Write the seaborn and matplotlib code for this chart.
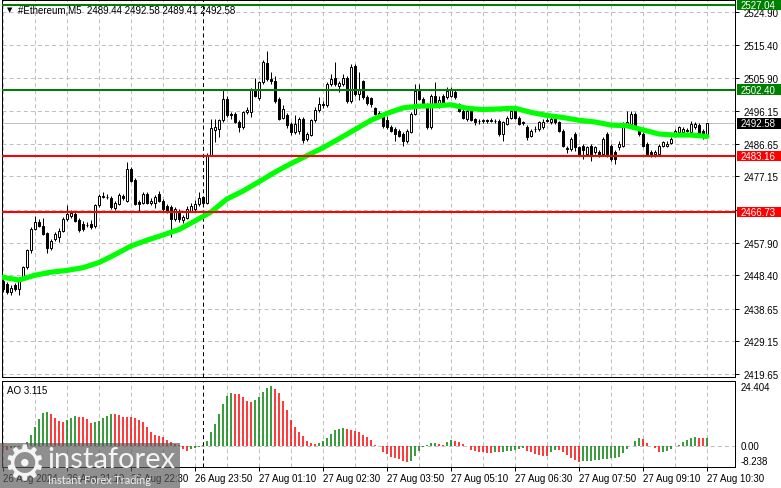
import numpy as np
import pandas as pd
import matplotlib
matplotlib.use("Agg")
import matplotlib.pyplot as plt
import matplotlib.transforms as mtrans
from matplotlib.patches import Rectangle
import seaborn as sns

# ---------------- data ----------------
opens = [2446.8, 2445.9, 2443.4, 2445.5, 2444.4, 2447.8, 2450.7, 2455.6, 2461.9, 2464.0,
         2462.6, 2460.7, 2456.2, 2459.0, 2459.4, 2461.4, 2464.8, 2465.7, 2466.2, 2464.5,
         2463.3, 2463.0, 2463.3, 2462.6, 2468.7, 2471.1, 2471.3, 2470.8, 2467.9, 2469.1,
         2471.6, 2470.1, 2479.3, 2476.2, 2469.8, 2469.4, 2472.0, 2469.4, 2469.3, 2471.9,
         2470.1, 2468.5, 2468.2, 2464.8, 2467.2, 2464.5, 2465.2, 2467.2, 2467.7, 2469.1,
         2471.1, 2469.5, 2483.5, 2490.6, 2491.1, 2493.5, 2499.8, 2495.4, 2495.4, 2493.0,
         2491.5, 2495.9, 2496.0, 2502.2, 2500.0, 2504.5, 2510.3, 2505.6, 2504.8, 2499.8,
         2494.2, 2494.9, 2492.5, 2490.0, 2490.5, 2494.0, 2488.0, 2489.3, 2493.5, 2496.4,
         2498.3, 2497.9, 2504.1, 2505.8, 2503.5, 2504.1, 2505.8, 2499.0, 2509.2, 2501.2,
         2504.8, 2500.3, 2500.0, 2497.0, 2495.7, 2495.2, 2493.7, 2491.6, 2491.0, 2490.5,
         2489.5, 2487.6, 2490.2, 2495.3, 2502.1, 2499.7, 2498.2, 2491.4, 2500.7, 2497.7,
         2500.7, 2500.2, 2500.7, 2501.6, 2498.2, 2496.3, 2493.9, 2496.3, 2493.9, 2493.4,
         2493.2, 2493.5, 2493.3, 2493.4, 2493.4, 2489.5, 2492.4, 2494.3, 2496.8, 2494.3,
         2492.9, 2491.6, 2488.9, 2490.9, 2491.0, 2491.4, 2493.4, 2492.9, 2493.9, 2492.9,
         2490.5, 2485.5, 2485.1, 2489.5, 2485.6, 2486.1, 2483.7, 2486.1, 2484.2, 2484.2,
         2483.7, 2489.5, 2486.1, 2484.2, 2485.6, 2486.1, 2492.4, 2492.4, 2495.3, 2490.5,
         2489.5, 2486.6, 2484.2, 2483.7, 2483.7, 2486.1, 2486.1, 2486.9, 2489.0, 2490.0,
         2490.2, 2490.6, 2490.0, 2491.4, 2492.1, 2490.5, 2489.44]
highs = [2447.5, 2446.5, 2445.5, 2446.2, 2448.0, 2451.2, 2456.0, 2462.4, 2465.7, 2464.8,
         2465.0, 2461.0, 2459.0, 2461.0, 2462.0, 2465.3, 2468.7, 2467.3, 2467.0, 2465.0,
         2464.2, 2463.8, 2464.5, 2469.2, 2472.0, 2472.7, 2472.0, 2471.5, 2470.0, 2472.3,
         2472.0, 2481.3, 2480.0, 2476.8, 2470.2, 2472.5, 2472.5, 2470.8, 2471.8, 2473.0,
         2470.6, 2469.0, 2468.7, 2468.2, 2467.7, 2466.0, 2468.5, 2469.3, 2470.3, 2472.5,
         2471.6, 2484.0, 2494.0, 2494.0, 2494.0, 2502.2, 2500.5, 2496.0, 2496.0, 2493.5,
         2496.3, 2497.5, 2503.0, 2505.8, 2505.0, 2511.0, 2513.8, 2507.5, 2506.5, 2500.3,
         2498.0, 2495.5, 2493.0, 2495.0, 2494.5, 2494.5, 2490.0, 2494.0, 2497.3, 2500.3,
         2499.0, 2504.5, 2507.0, 2510.4, 2504.9, 2507.0, 2506.3, 2509.8, 2509.8, 2507.5,
         2505.2, 2500.8, 2500.4, 2497.5, 2496.2, 2495.6, 2494.8, 2492.0, 2491.5, 2491.0,
         2490.0, 2491.0, 2495.8, 2504.05, 2504.05, 2500.2, 2498.6, 2501.0, 2504.5, 2500.5,
         2501.2, 2503.1, 2503.1, 2502.2, 2498.6, 2496.8, 2496.8, 2496.8, 2494.3, 2493.9,
         2493.9, 2494.0, 2494.1, 2494.0, 2493.9, 2493.4, 2494.8, 2497.3, 2497.3, 2494.8,
         2493.4, 2492.0, 2491.0, 2491.8, 2493.4, 2493.9, 2494.3, 2494.5, 2494.3, 2493.3,
         2491.0, 2486.0, 2488.5, 2490.0, 2486.0, 2486.6, 2486.1, 2486.6, 2486.0, 2484.7,
         2488.5, 2490.0, 2486.6, 2484.7, 2487.5, 2492.9, 2496.3, 2496.3, 2495.8, 2491.0,
         2490.0, 2487.1, 2484.7, 2484.7, 2486.6, 2487.6, 2487.6, 2488.5, 2491.0, 2491.9,
         2491.6, 2491.2, 2493.4, 2492.9, 2492.6, 2491.0, 2492.58]
lows = [2443.5, 2442.8, 2442.5, 2443.8, 2442.5, 2447.3, 2450.3, 2455.0, 2461.5, 2462.3,
        2460.0, 2454.9, 2455.8, 2458.5, 2458.0, 2461.0, 2464.3, 2465.0, 2463.9, 2461.0,
        2461.3, 2462.3, 2461.8, 2462.0, 2468.2, 2470.8, 2470.6, 2467.8, 2467.4, 2468.8,
        2470.3, 2469.8, 2475.5, 2468.7, 2467.2, 2469.0, 2469.0, 2468.7, 2467.9, 2469.6,
        2467.2, 2466.6, 2459.4, 2464.3, 2464.0, 2463.5, 2464.7, 2466.7, 2467.0, 2468.6,
        2468.8, 2469.0, 2483.0, 2487.2, 2488.6, 2493.0, 2494.5, 2494.0, 2492.6, 2490.1,
        2491.0, 2495.4, 2494.5, 2500.2, 2499.5, 2504.0, 2505.0, 2504.0, 2498.5, 2493.5,
        2493.8, 2491.3, 2489.1, 2489.5, 2489.5, 2487.0, 2487.5, 2488.8, 2493.0, 2496.0,
        2497.0, 2497.4, 2503.6, 2503.5, 2501.7, 2503.6, 2498.5, 2498.6, 2500.5, 2499.4,
        2499.8, 2498.0, 2497.4, 2495.0, 2494.8, 2491.2, 2491.0, 2490.0, 2487.6, 2488.5,
        2486.1, 2487.0, 2489.8, 2495.0, 2499.3, 2497.8, 2491.0, 2491.0, 2497.3, 2497.0,
        2497.8, 2499.8, 2500.2, 2499.8, 2495.9, 2493.9, 2493.4, 2493.3, 2492.0, 2492.5,
        2492.7, 2492.8, 2492.9, 2492.8, 2489.0, 2487.6, 2492.0, 2494.0, 2493.9, 2492.0,
        2492.2, 2487.8, 2488.5, 2490.2, 2490.5, 2491.0, 2492.9, 2492.5, 2492.4, 2490.0,
        2485.6, 2484.0, 2484.6, 2484.5, 2483.0, 2482.2, 2483.2, 2481.7, 2483.7, 2482.7,
        2483.2, 2482.7, 2481.7, 2480.8, 2484.7, 2485.6, 2491.9, 2491.9, 2491.4, 2489.0,
        2485.6, 2483.2, 2482.9, 2482.7, 2483.2, 2485.6, 2485.8, 2486.5, 2488.5, 2489.5,
        2489.7, 2490.0, 2489.5, 2491.0, 2489.0, 2488.0, 2489.41]
closes = [2444.4, 2443.4, 2444.6, 2444.4, 2447.5, 2450.7, 2455.6, 2461.9, 2463.8, 2462.8,
          2460.4, 2456.2, 2458.5, 2460.4, 2461.4, 2464.8, 2466.2, 2466.4, 2464.3, 2461.7,
          2461.9, 2463.1, 2462.3, 2468.7, 2471.6, 2471.6, 2471.2, 2468.2, 2469.4, 2471.8,
          2470.8, 2479.3, 2475.9, 2469.1, 2469.1, 2472.0, 2469.4, 2470.1, 2471.3, 2470.1,
          2467.7, 2467.2, 2464.8, 2467.7, 2464.8, 2465.4, 2467.7, 2468.5, 2469.1, 2470.8,
          2469.4, 2483.5, 2491.2, 2491.4, 2493.5, 2499.8, 2494.9, 2494.9, 2493.0, 2491.5,
          2495.9, 2496.4, 2502.7, 2500.6, 2504.5, 2510.5, 2505.6, 2504.8, 2499.0, 2494.0,
          2496.9, 2492.2, 2490.1, 2492.5, 2494.0, 2487.7, 2489.6, 2493.5, 2496.4, 2498.3,
          2497.9, 2504.1, 2505.6, 2504.1, 2504.4, 2505.8, 2499.0, 2509.0, 2501.2, 2502.7,
          2500.3, 2498.6, 2498.3, 2495.4, 2495.2, 2491.8, 2491.4, 2490.5, 2489.5, 2489.0,
          2487.6, 2490.5, 2495.3, 2502.1, 2499.7, 2498.2, 2491.4, 2500.7, 2497.7, 2499.5,
          2498.2, 2502.1, 2502.6, 2500.2, 2496.3, 2494.3, 2496.3, 2493.7, 2492.9, 2493.2,
          2493.5, 2493.3, 2493.6, 2493.3, 2489.5, 2492.9, 2494.3, 2496.3, 2494.3, 2492.4,
          2492.7, 2488.5, 2490.5, 2491.1, 2492.9, 2493.1, 2493.6, 2493.9, 2492.9, 2490.5,
          2486.1, 2485.1, 2488.0, 2485.6, 2483.6, 2484.7, 2485.6, 2483.2, 2485.6, 2483.2,
          2488.0, 2483.2, 2482.2, 2482.2, 2486.6, 2492.4, 2492.9, 2495.3, 2491.9, 2489.5,
          2486.1, 2483.7, 2483.4, 2484.2, 2486.1, 2487.1, 2486.6, 2488.0, 2490.5, 2491.4,
          2490.9, 2490.4, 2492.4, 2492.4, 2489.5, 2489.4, 2492.58]

ao_values = [-1.2, -1.5, -1.0, -0.8, -0.4, 0.3, 1.3, 4.1, 7.3, 10.3,
             12.4, 12.8, 12.2, 10.5, 9.6, 9.0, 9.9, 10.8, 11.3, 11.2,
             11.1, 10.3, 8.8, 9.0, 9.6, 10.6, 11.5, 12.2, 12.1, 11.8,
             11.2, 11.0, 10.9, 10.5, 9.9, 9.0, 7.1, 5.1, 4.1, 3.8,
             3.2, 2.2, 1.3, 0.6, 0.2, -1.3, -1.9, -1.3, -0.9, -0.4,
             0.2, 1.8, 5.1, 8.3, 12.2, 16.0, 19.2, 20.1, 20.0, 19.8,
             18.6, 17.3, 16.9, 17.7, 18.6, 20.5, 22.1, 23.1, 21.8, 20.3,
             17.3, 13.8, 9.9, 7.1, 5.4, 3.8, 1.9, 1.0, 0.6, 1.0,
             1.9, 2.8, 4.5, 6.0, 6.4, 6.7, 6.6, 6.0, 5.8, 5.3,
             4.2, 3.5, 2.2, 0.4, -0.1, -2.3, -3.2, -4.2, -4.9, -5.1,
             -5.8, -6.4, -6.0, -4.1, -1.9, -0.5, 0.3, 1.0, 1.1, 0.6,
             0.4, 1.5, 2.3, 1.8, 1.5, 0.5, -0.1, -1.5, -2.2, -2.3,
             -2.6, -2.7, -2.8, -2.3, -2.4, -2.3, -2.2, -1.9, -1.7, -1.3,
             -0.9, -1.9, -2.6, -3.2, -3.6, -3.8, -3.9, -2.3, -1.5, -1.7,
             -2.3, -3.6, -4.9, -5.4, -6.2, -6.0, -5.8, -5.7, -5.6, -5.5,
             -5.3, -5.1, -4.9, -4.8, -4.2, -2.8, -1.3, 0.05, 1.9, 2.9,
             2.6, 1.0, -0.05, -1.0, -2.6, -2.3, -1.9, -1.3, 0.0, 0.3,
             1.3, 2.2, 2.9, 3.2, 3.1, 2.8, 3.115]

ma_bars = [0, 4, 8, 12, 16, 20, 24, 28, 32, 36, 40, 44, 48, 52, 56, 60, 64, 68, 72, 76,
           80, 84, 88, 92, 96, 100, 104, 108, 112, 116, 120, 124, 128, 132, 136, 140,
           144, 148, 152, 156, 160, 164, 168, 172, 176]
ma_values = [2447.8, 2447.0, 2448.4, 2449.3, 2449.8, 2450.6, 2452.1, 2454.4, 2456.9, 2458.6,
             2460.1, 2461.7, 2464.2, 2466.8, 2470.6, 2472.9, 2475.6, 2478.4, 2480.9, 2483.2,
             2485.5, 2488.1, 2490.8, 2493.5, 2495.5, 2497.1, 2497.6, 2497.7, 2498.0, 2497.0,
             2496.6, 2496.8, 2497.0, 2495.8, 2494.9, 2494.3, 2493.5, 2493.0, 2492.1, 2491.9,
             2490.7, 2489.5, 2489.2, 2489.2, 2488.8]

price_ticks = [2524.90, 2515.40, 2505.90, 2496.15, 2486.65, 2477.15, 2467.40,
               2457.90, 2448.40, 2438.65, 2429.15, 2419.65]
price_tick_labels = ["2524.90", "2515.40", "2505.90", "2496.15", "2486.65", "2477.15",
                     "", "2457.90", "2448.40", "2438.65", "2429.15", "2419.65"]

level_values = [2527.04, 2502.40, 2483.16, 2466.73]
level_labels = ["2527.04", "2502.40", "2483.16", "2466.73"]
level_colors = ["#008000", "#008000", "#FF0000", "#FF0000"]
last_price = 2492.58
last_label = "2492.58"

grid_bars = [0, 8, 16, 24, 32, 40, 48, 56, 64, 72, 80, 88, 96, 104, 112, 120, 128,
             136, 144, 152, 160, 168, 176]
separator_bar = 50
time_tick_bars = [0, 16, 32, 48, 64, 80, 96, 112, 128, 144, 160, 176]
time_tick_labels = ["26 Aug 2024", "26 Aug 21:10", "26 Aug 22:30", "26 Aug 23:50",
                    "27 Aug 01:10", "27 Aug 02:30", "27 Aug 03:50", "27 Aug 05:10",
                    "27 Aug 06:30", "27 Aug 07:50", "27 Aug 09:10", "27 Aug 10:30"]

ao_scale_values = [22.6, 0.0, -5.7]
ao_scale_labels = ["24.404", "0.00", "-8.238"]

title_text = "#Ethereum,M5  2489.44 2492.58 2489.41 2492.58"
ao_title = "AO 3.115"

# ---------------- style ----------------
sns.set_style("white")
plt.rcParams['font.family'] = ['Liberation Sans', 'DejaVu Sans']
plt.rcParams['lines.scale_dashes'] = False

W, H = 781, 489
fig = plt.figure(figsize=(W / 100, H / 100), dpi=100)
fig.patch.set_facecolor("white")


def fx(px):
    return px / W


def fy(py):
    return 1 - py / H


ax = fig.add_axes([fx(2), fy(378), fx(735) - fx(2), fy(1) - fy(378)])
ax2 = fig.add_axes([fx(2), fy(468), fx(735) - fx(2), fy(381.5) - fy(468)])

PX = 0.72  # points per pixel
dash = (0, (2.9, 2.2))
grid_c = "#C0C0C0"

df = pd.DataFrame({"o": opens, "h": highs, "l": lows, "c": closes, "ao": ao_values})
df["i"] = np.arange(len(df))
bull = df["c"] >= df["o"]

for a in (ax, ax2):
    a.set_facecolor("white")
    a.set_xlim(-0.25, 183.0)
    for s in a.spines.values():
        s.set_color("black")
        s.set_linewidth(1 * PX)
        s.set_visible(True)
    for g in grid_bars:
        a.axvline(g, color=grid_c, lw=1 * PX, ls=dash, zorder=1)
    a.axvline(separator_bar, color="black", lw=1 * PX, ls=dash, zorder=2)

# ---- main panel ----
ax.set_ylim(2418.78, 2528.50)
for p in price_ticks:
    ax.axhline(p, color=grid_c, lw=1 * PX, ls=dash, zorder=1)
ax.axhline(last_price, color=grid_c, lw=1 * PX, zorder=1.5)

ax.vlines(df["i"], df["l"], df["h"], colors="black", lw=1 * PX, zorder=3)
body_bottom = np.minimum(df["o"], df["c"])
body_h = np.maximum(np.abs(df["c"] - df["o"]), 0.05)
ax.bar(df["i"][bull], body_h[bull], bottom=body_bottom[bull], width=0.55,
       color="white", edgecolor="black", linewidth=1 * PX, zorder=3.5)
ax.bar(df["i"][~bull], body_h[~bull], bottom=body_bottom[~bull], width=0.55,
       color="black", edgecolor="black", linewidth=1 * PX, zorder=3.5)

sns.lineplot(x=ma_bars, y=ma_values, ax=ax, color="#00FF00", linewidth=3.7,
             zorder=4, legend=False)

for v, c in zip(level_values, level_colors):
    ax.axhline(v, color=c, lw=2 * PX, zorder=5)

ax.set_yticks(price_ticks)
ax.set_yticklabels(price_tick_labels)
ax.yaxis.tick_right()
ax.tick_params(axis="y", right=True, left=False, length=3 * PX * 1.4, width=1 * PX,
               pad=3, labelsize=7, colors="black", direction="out")
ax.set_xticks([])
ax.set_xlabel("")
ax.set_ylabel("")

blend = mtrans.blended_transform_factory(fig.transFigure, ax.transData)
box_h = 10.5 / 3.436
for v, lab, c in list(zip(level_values, level_labels, level_colors)) + [(last_price, last_label, "black")]:
    ax.add_patch(Rectangle((fx(736.5), v - box_h / 2), fx(781) - fx(736.5), box_h,
                           transform=blend, facecolor=c, edgecolor="none",
                           clip_on=False, zorder=6))
    ax.text(fx(740.5), v, lab, transform=blend, color="white", fontsize=7,
            va="center", ha="left", zorder=7, clip_on=False)

ax.text(fx(7), fy(10.5), "▼", transform=fig.transFigure, fontsize=5,
        family="DejaVu Sans", va="center", ha="left", color="black")
ax.text(fx(17.5), fy(10.5), title_text, transform=fig.transFigure, fontsize=7,
        va="center", ha="left", color="black")

# ---- AO panel ----
ax2.set_ylim(-8.19, 25.08)
ax2.axhline(0, color=grid_c, lw=1 * PX, ls=dash, zorder=1)
ao_arr = np.array(ao_values)
rising = np.concatenate([[False], np.diff(ao_arr) > 0])
ao_colors = np.where(rising, "#008000", "#FF0000")
ax2.vlines(df["i"], 0, ao_arr, colors=ao_colors, lw=1.1, zorder=3)
ax2.set_yticks([])
ax2.set_ylabel("")

blend2 = mtrans.blended_transform_factory(fig.transFigure, ax2.transData)
for v, lab in zip(ao_scale_values, ao_scale_labels):
    ax2.text(fx(740.5), v, lab, transform=blend2, fontsize=7, va="center",
             ha="left", color="black", clip_on=False)
ax2.text(fx(7.5), fy(391), ao_title, transform=fig.transFigure, fontsize=7,
         va="center", ha="left", color="black")

ax2.set_xticks(time_tick_bars)
ax2.set_xticklabels(time_tick_labels, ha="left")
ax2.tick_params(axis="x", bottom=True, length=3.5 * PX, width=1 * PX, pad=1.5,
                labelsize=7, colors="black", direction="out")
ax2.set_xlabel("")

# ---- watermark ----
fig.patches.append(Rectangle((0, 0), fx(180), fy(444), transform=fig.transFigure,
                             facecolor="#5a5a5a", alpha=0.68, edgecolor="none", zorder=10))
fig.text(fx(24.5), fy(466), "⚙", fontsize=35, family="DejaVu Sans", color="#f4f4f4",
         ha="center", va="center", zorder=11)
fig.text(fx(47), fy(460), "instaforex", fontsize=21, family="Lato", color="#f4f4f4",
         ha="left", va="center", zorder=11)
fig.text(fx(48), fy(480.5), "Instant Forex Trading", fontsize=7.8, family="Lato",
         color="#eeeeee", ha="left", va="center", zorder=11)

fig.savefig("out.png", dpi=100, facecolor="white")
